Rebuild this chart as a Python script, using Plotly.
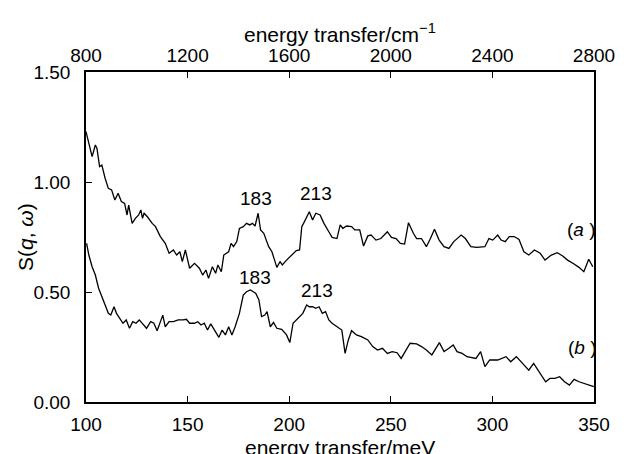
import plotly.graph_objects as go

# Energy transfer (meV) and S(q, w) for spectrum (a)
a_mev = [100.0, 101.4, 103.0, 104.6, 105.4, 106.7, 107.8, 109.4, 111.0, 112.6, 114.2, 115.8,
         117.4, 119.0, 120.2, 121.0, 122.7, 124.3, 125.9, 127.0, 127.8, 128.6, 130.2, 132.6,
         134.2, 136.6, 139.0, 140.9, 143.0, 144.6, 146.2, 147.4, 148.9, 151.0, 153.4, 155.8,
         157.4, 159.0, 160.3, 162.2, 163.8, 164.9, 166.6, 167.8, 170.2, 171.4, 172.6, 174.2,
         175.5, 177.4, 179.0, 180.6, 181.9, 183.2, 184.7, 185.9, 187.5, 189.9, 191.5, 192.8,
         193.9, 195.5, 196.6, 198.7, 201.1, 203.5, 205.1, 206.2, 207.5, 209.9, 211.5, 213.1,
         215.2, 217.1, 219.5, 221.1, 223.5, 225.1, 226.4, 228.3, 230.7, 232.3, 234.7, 236.6,
         238.7, 240.3, 242.7, 245.1, 248.3, 250.3, 252.6, 254.7, 256.8, 258.7, 261.1, 262.7,
         265.1, 267.5, 269.5, 271.5, 273.8, 276.2, 278.6, 281.0, 284.6, 286.7, 289.4, 292.3,
         296.3, 298.3, 300.2, 302.6, 304.3, 306.3, 308.3, 310.7, 313.1, 315.5, 317.9, 320.7,
         323.5, 325.9, 329.0, 331.9, 334.6, 337.0, 340.2, 342.6, 345.0, 347.4, 349.4]
a_s = [1.229, 1.177, 1.115, 1.168, 1.153, 1.070, 1.077, 1.017, 0.971, 0.964, 0.918, 0.949,
       0.911, 0.903, 0.850, 0.895, 0.812, 0.835, 0.850, 0.873, 0.835, 0.858, 0.842, 0.812,
       0.797, 0.752, 0.721, 0.676, 0.691, 0.668, 0.683, 0.638, 0.691, 0.608, 0.630, 0.608,
       0.577, 0.600, 0.562, 0.615, 0.585, 0.623, 0.592, 0.668, 0.683, 0.721, 0.706, 0.729,
       0.789, 0.797, 0.812, 0.805, 0.812, 0.800, 0.858, 0.782, 0.767, 0.706, 0.683, 0.645,
       0.612, 0.638, 0.623, 0.645, 0.668, 0.688, 0.691, 0.797, 0.820, 0.865, 0.827, 0.858,
       0.850, 0.812, 0.774, 0.748, 0.743, 0.805, 0.789, 0.800, 0.797, 0.782, 0.782, 0.709,
       0.755, 0.759, 0.736, 0.743, 0.774, 0.748, 0.743, 0.721, 0.718, 0.815, 0.767, 0.743,
       0.743, 0.706, 0.743, 0.785, 0.736, 0.706, 0.698, 0.729, 0.759, 0.743, 0.706, 0.703,
       0.706, 0.743, 0.736, 0.759, 0.736, 0.729, 0.752, 0.752, 0.739, 0.683, 0.668, 0.691,
       0.676, 0.645, 0.668, 0.679, 0.664, 0.645, 0.627, 0.612, 0.592, 0.649, 0.615]

# Energy transfer (meV) and S(q, w) for spectrum (b)
b_mev = [100.3, 101.4, 103.0, 104.6, 106.2, 107.8, 109.4, 111.0, 112.2, 113.8, 115.0, 116.6,
         118.2, 119.8, 121.4, 123.0, 124.6, 126.2, 127.8, 129.8, 131.8, 133.4, 135.0, 136.6,
         137.8, 139.0, 140.9, 143.0, 145.4, 147.8, 149.4, 151.0, 153.4, 155.0, 156.6, 158.2,
         159.8, 161.4, 163.0, 165.4, 167.0, 168.6, 170.2, 171.8, 173.4, 175.5, 177.4, 179.0,
         180.9, 182.2, 183.5, 185.1, 186.4, 188.0, 189.1, 190.7, 192.3, 193.9, 196.3, 198.7,
         200.3, 201.9, 204.3, 206.7, 208.6, 209.9, 211.5, 213.1, 214.7, 216.3, 217.9, 219.5,
         221.1, 223.5, 225.9, 227.5, 229.1, 230.7, 233.1, 235.5, 238.7, 241.1, 243.5, 245.9,
         248.3, 250.7, 253.1, 255.1, 257.9, 259.5, 262.7, 265.1, 267.5, 270.2, 273.9, 276.2,
         278.6, 280.7, 282.6, 285.1, 287.5, 289.9, 291.9, 294.2, 296.3, 298.7, 302.6, 306.7,
         309.0, 311.8, 314.7, 317.9, 320.3, 323.5, 326.2, 328.3, 330.7, 333.1, 335.5, 337.9,
         340.2, 342.6, 345.0, 347.4, 349.9]
b_s = [0.721, 0.668, 0.615, 0.577, 0.517, 0.479, 0.433, 0.403, 0.395, 0.433, 0.403, 0.380,
       0.358, 0.373, 0.335, 0.365, 0.358, 0.373, 0.358, 0.335, 0.365, 0.358, 0.324, 0.365,
       0.395, 0.342, 0.365, 0.365, 0.373, 0.373, 0.376, 0.358, 0.358, 0.365, 0.350, 0.358,
       0.327, 0.355, 0.330, 0.294, 0.327, 0.305, 0.342, 0.305, 0.342, 0.403, 0.486, 0.501,
       0.509, 0.501, 0.494, 0.464, 0.388, 0.395, 0.411, 0.342, 0.362, 0.335, 0.330, 0.305,
       0.270, 0.358, 0.380, 0.403, 0.441, 0.433, 0.433, 0.426, 0.433, 0.403, 0.411, 0.373,
       0.358, 0.342, 0.327, 0.221, 0.282, 0.324, 0.305, 0.297, 0.282, 0.252, 0.236, 0.244,
       0.221, 0.229, 0.224, 0.198, 0.239, 0.267, 0.264, 0.252, 0.236, 0.214, 0.270, 0.229,
       0.244, 0.259, 0.229, 0.221, 0.206, 0.203, 0.198, 0.229, 0.161, 0.191, 0.191, 0.206,
       0.183, 0.206, 0.176, 0.145, 0.176, 0.130, 0.092, 0.107, 0.107, 0.115, 0.092, 0.077,
       0.103, 0.092, 0.085, 0.077, 0.070]

# Peak annotations: (energy, label height, text) for each spectrum
peak_a = [(183.5, 0.927, "183"), (213.2, 0.950, "213")]
peak_b = [(183.0, 0.568, "183"), (213.7, 0.505, "213")]
curve_tags = [(343.8, 0.782, "(<i>a</i> )"), (344.2, 0.250, "(<i>b</i> )")]

mev_ticks = [100, 150, 200, 250, 300, 350]
cm_ticks = [800, 1200, 1600, 2000, 2400, 2800]
s_ticks = [0.0, 0.5, 1.0, 1.5]

FONT = "Liberation Sans, Arial, Helvetica, sans-serif"
TICK_SIZE = 19
TITLE_SIZE = 21

fig = go.Figure()
fig.add_trace(go.Scatter(x=a_mev, y=a_s, mode="lines",
                         line=dict(color="black", width=1.3), showlegend=False))
fig.add_trace(go.Scatter(x=b_mev, y=b_s, mode="lines",
                         line=dict(color="black", width=1.3), showlegend=False))
# invisible trace anchoring the wavenumber axis on top
fig.add_trace(go.Scatter(x=[800, 2800], y=[0, 0], xaxis="x2", mode="lines",
                         line=dict(width=0), hoverinfo="skip", showlegend=False))

annotations = []
for x, y, t in peak_a + peak_b:
    annotations.append(dict(x=x, y=y, xref="x", yref="y", text=t, showarrow=False,
                            font=dict(size=TICK_SIZE, color="black", family=FONT)))
for x, y, t in curve_tags:
    annotations.append(dict(x=x, y=y, xref="x", yref="y", text=t, showarrow=False,
                            font=dict(size=TICK_SIZE, color="black", family=FONT)))

# axis titles
annotations.append(dict(x=0.5, y=0, xref="paper", yref="paper", yshift=-45,
                        text="energy transfer/meV", showarrow=False, yanchor="middle",
                        font=dict(size=TITLE_SIZE, color="black", family=FONT)))
annotations.append(dict(x=0.5, y=1, xref="paper", yref="paper", yshift=39,
                        text="energy transfer/cm<sup>\u22121</sup>", showarrow=False,
                        yanchor="middle",
                        font=dict(size=TITLE_SIZE, color="black", family=FONT)))
annotations.append(dict(x=0, y=0.5, xref="paper", yref="paper", xshift=-61,
                        text="S(<i>q</i>, <i>\u03c9</i>)", showarrow=False, textangle=-90,
                        xanchor="center",
                        font=dict(size=TITLE_SIZE, color="black", family=FONT)))

axis_common = dict(showgrid=False, zeroline=False, showline=True, linecolor="black",
                   linewidth=1.5, ticks="inside", ticklen=6, tickwidth=1.3,
                   tickcolor="black",
                   tickfont=dict(size=TICK_SIZE, color="black", family=FONT))

fig.update_layout(
    width=627, height=454,
    margin=dict(l=86, r=20, t=72, b=52),
    paper_bgcolor="white", plot_bgcolor="white",
    font=dict(family=FONT, color="black"),
    xaxis=dict(range=[100, 350], tickvals=mev_ticks, mirror=True,
               ticklabelstandoff=4, **axis_common),
    xaxis2=dict(range=[800, 2800], tickvals=cm_ticks, overlaying="x", side="top",
                ticklabelstandoff=1, **axis_common),
    yaxis=dict(range=[0, 1.5], tickvals=s_ticks, tickformat=".2f", mirror=True,
               ticklabelstandoff=10, **axis_common),
    annotations=annotations,
)

fig.write_html("out.html")
